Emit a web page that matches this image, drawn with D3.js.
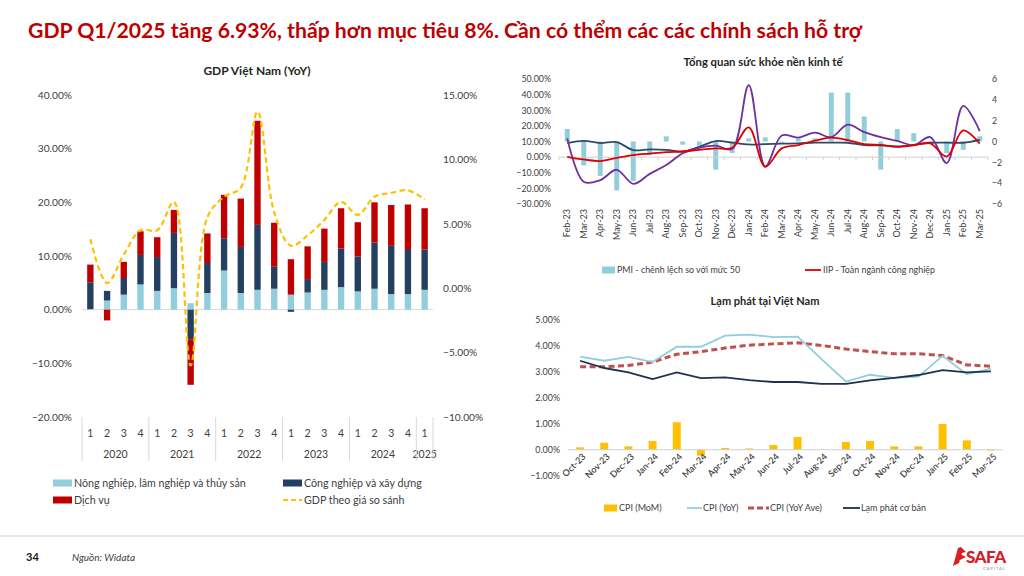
<!DOCTYPE html>
<html><head><meta charset="utf-8">
<script src="https://cdn.jsdelivr.net/npm/d3@7"></script>
<style>body{margin:0;background:#fff}svg{display:block}text{font-family:Lato,"Noto Sans",sans-serif}</style>
</head><body><svg id="c" width="1024" height="576"></svg>
<script>
// ---------- GDP chart data ----------
const gdpQuarter = ["1","2","3","4","1","2","3","4","1","2","3","4","1","2","3","4","1","2","3","4","1"];
const gdpYear = ["2020","2020","2020","2020","2021","2021","2021","2021","2022","2022","2022","2022","2023","2023","2023","2023","2024","2024","2024","2024","2025"];
const agri = [0.1,1.7,2.8,4.7,3.5,4.0,1.2,3.1,7.3,3.1,3.7,3.9,2.8,3.2,3.7,4.2,3.4,3.9,2.9,2.9,3.7];
const industry = [5.0,1.8,3.1,5.5,6.3,10.3,-5.5,5.6,6.0,8.6,12.1,4.1,-0.4,2.5,5.2,7.2,6.5,8.6,9.0,8.4,7.5];
const services = [3.3,-2.0,3.0,4.4,3.7,4.3,-8.5,5.5,8.1,9.0,19.4,8.2,6.6,6.1,6.2,7.5,6.4,7.5,7.6,8.3,7.7];
const gdpTotal = [3.8,0.4,2.6,4.5,4.5,6.7,-6.0,5.5,7.1,7.8,13.7,5.9,3.3,4.1,5.3,6.7,5.7,7.1,7.4,7.6,6.9];
const gdpLeftTicks = [-20,-10,0,10,20,30,40];
const gdpRightTicks = [-10,-5,0,5,10,15];

// ---------- Economy health chart data ----------
const healthMonths = ["Feb-23","Mar-23","Apr-23","May-23","Jun-23","Jul-23","Aug-23","Sep-23","Oct-23","Nov-23","Dec-23","Jan-24","Feb-24","Mar-24","Apr-24","May-24","Jun-24","Jul-24","Aug-24","Sep-24","Oct-24","Nov-24","Dec-24","Jan-25","Feb-25","Mar-25"];
const pmiGap = [1.2,-2.3,-3.3,-4.7,-3.8,-1.3,0.5,-0.3,-0.4,-2.7,-1.1,0.3,0.4,-0.1,0.3,0.3,4.7,4.7,2.4,-2.7,1.2,0.8,-0.2,-1.1,-0.8,0.5];
const iip = [0.2,-1.5,-2.5,-0.5,1.3,2.3,3.2,3.6,4.7,5.6,6.0,19.0,-6.2,5.6,7.7,10.5,12.5,10.9,8.3,7.8,6.6,7.6,8.8,0.4,17.1,8.6];
const purpleSeries = [12.0,-15.8,-14.7,-8.1,-17.1,-10.7,-5.1,2.5,6.0,7.3,5.3,46.0,-6.0,13.8,12.5,15.7,12.8,20.8,16.0,12.8,10.4,7.7,12.8,-3.8,32.8,16.7];
const navySeries = [9.0,10.4,9.0,9.6,4.5,5.0,4.7,3.6,6.6,10.3,9.3,8.1,8.3,8.6,8.8,9.3,9.3,9.2,7.7,7.5,6.9,7.9,9.2,9.3,9.2,11.1];
const healthLeftTicks = [-30,-20,-10,0,10,20,30,40,50];
const healthRightTicks = [-6,-4,-2,0,2,4,6];

// ---------- Inflation chart data ----------
const cpiMonths = ["Oct-23","Nov-23","Dec-23","Jan-24","Feb-24","Mar-24","Apr-24","May-24","Jun-24","Jul-24","Aug-24","Sep-24","Oct-24","Nov-24","Dec-24","Jan-25","Feb-25","Mar-25"];
const cpiMoM = [0.09,0.27,0.13,0.34,1.06,-0.23,0.07,0.05,0.18,0.49,0.0,0.30,0.34,0.13,0.13,0.99,0.36,-0.03];
const cpiYoY = [3.59,3.43,3.58,3.38,3.97,3.97,4.40,4.44,4.34,4.36,3.48,2.63,2.89,2.77,2.82,3.62,2.91,3.13];
const cpiYoYAve = [3.20,3.20,3.25,3.38,3.68,3.78,3.92,4.03,4.08,4.12,4.02,3.88,3.78,3.70,3.70,3.63,3.27,3.22];
const coreInfl = [3.43,3.15,2.98,2.72,2.98,2.76,2.79,2.68,2.61,2.61,2.54,2.54,2.67,2.77,2.88,3.07,2.98,3.02];
const cpiTicks = [-1,0,1,2,3,4,5];

const svg = d3.select("#c");
const TXT = "#404040";
const pct2 = d => d3.format(".2f")(d) + "%";

// ---------- Header ----------
svg.append("text").attr("x",28).attr("y",38).attr("font-size",20).attr("font-weight",700)
  .attr("fill","#c00000").attr("textLength",834).attr("lengthAdjust","spacingAndGlyphs")
  .text("GDP Q1/2025 tăng 6.93%, thấp hơn mục tiêu 8%. Cần có thểm các các chính sách hỗ trợ");

// ---------- GDP chart ----------
(function(){
  const g = svg.append("g");
  const x = d3.scaleBand().domain(d3.range(gdpQuarter.length)).range([82,433]).paddingInner(0.62).paddingOuter(0.31);
  const yL = d3.scaleLinear().domain([-20,40]).range([417,95]);
  const yR = d3.scaleLinear().domain([-10,15]).range([417,95]);
  const step = x.step();

  g.append("text").attr("x",257).attr("y",75).attr("text-anchor","middle").attr("font-size",12)
    .attr("font-weight",700).attr("fill","#262626").text("GDP Việt Nam (YoY)");

  g.append("line").attr("x1",82).attr("x2",433).attr("y1",yL(0)).attr("y2",yL(0)).attr("stroke","#d9d9d9");

  const rows = gdpQuarter.map((q,i)=>({i, agri:agri[i], industry:industry[i], services:services[i]}));
  const keys = ["agri","industry","services"];
  const colors = {agri:"#92cddc", industry:"#243f60", services:"#c00000"};
  const stack = d3.stack().keys(keys).offset(d3.stackOffsetDiverging)(rows);
  g.selectAll("g.s").data(stack).join("g").attr("fill",d=>colors[d.key])
    .selectAll("rect").data(d=>d).join("rect")
    .attr("x",d=>x(d.data.i)).attr("width",x.bandwidth())
    .attr("y",d=>yL(Math.max(d[0],d[1]))).attr("height",d=>Math.abs(yL(d[0])-yL(d[1])));

  const line = d3.line().x((d,i)=>x(i)+x.bandwidth()/2).y(d=>yR(d)).curve(d3.curveCatmullRom.alpha(0.5));
  g.append("path").attr("d",line(gdpTotal)).attr("fill","none").attr("stroke","#ffc000")
    .attr("stroke-width",2.2).attr("stroke-dasharray","5.5,3.5");

  g.append("g").attr("transform","translate(72,0)")
    .call(d3.axisLeft(yL).tickValues(gdpLeftTicks).tickFormat(pct2).tickSize(0).tickPadding(0))
    .call(a=>a.select(".domain").remove())
    .call(a=>a.selectAll("text").attr("font-size",10.2).attr("fill",TXT).attr("font-family",null));
  g.append("g").attr("transform","translate(443,0)")
    .call(d3.axisRight(yR).tickValues(gdpRightTicks).tickFormat(pct2).tickSize(0).tickPadding(0))
    .call(a=>a.select(".domain").remove())
    .call(a=>a.selectAll("text").attr("font-size",10.2).attr("fill",TXT).attr("font-family",null));

  // category axis (two levels)
  g.selectAll("text.q").data(gdpQuarter).join("text").attr("class","q")
    .attr("x",(d,i)=>x(i)+x.bandwidth()/2).attr("y",437).attr("text-anchor","middle")
    .attr("font-size",10.5).attr("fill",TXT).text(d=>d);
  const years = d3.groups(gdpYear.map((y,i)=>({y,i})), d=>d.y).map(([y,arr])=>({y, first:arr[0].i, last:arr[arr.length-1].i}));
  g.selectAll("text.y").data(years).join("text").attr("class","y")
    .attr("x",d=>(x(d.first)+x(d.last)+x.bandwidth())/2).attr("y",458).attr("text-anchor","middle")
    .attr("font-size",10.5).attr("fill",TXT).text(d=>d.y);
  const seps = [x(0)-(step-x.bandwidth())/2].concat(years.map(d=>x(d.last)+x.bandwidth()+(step-x.bandwidth())/2));
  g.selectAll("line.sep").data(seps).join("line").attr("class","sep")
    .attr("x1",d=>d).attr("x2",d=>d).attr("y1",417).attr("y2",461).attr("stroke","#d9d9d9");

  // legend
  const lg = [
    {t:"Nông nghiệp, lâm nghiệp và thủy sản", c:colors.agri, x:53, y:483, type:"rect"},
    {t:"Công nghiệp và xây dựng", c:colors.industry, x:283, y:483, type:"rect"},
    {t:"Dịch vụ", c:colors.services, x:53, y:500, type:"rect"},
    {t:"GDP theo giá so sánh", c:"#ffc000", x:283, y:500, type:"dash"}
  ];
  lg.forEach(d=>{
    if(d.type==="rect") g.append("rect").attr("x",d.x).attr("y",d.y-3.5).attr("width",19).attr("height",7).attr("fill",d.c);
    else g.append("line").attr("x1",d.x).attr("x2",d.x+19).attr("y1",d.y).attr("y2",d.y).attr("stroke",d.c).attr("stroke-width",2.2).attr("stroke-dasharray","5,3");
    g.append("text").attr("x",d.x+21).attr("y",d.y).attr("dy","0.35em").attr("font-size",10.7).attr("fill",TXT).text(d.t);
  });
})();

// ---------- Economy health chart ----------
(function(){
  const g = svg.append("g");
  const x = d3.scaleBand().domain(healthMonths).range([559,988]).paddingInner(0.7).paddingOuter(0.35);
  const yL = d3.scaleLinear().domain([-30,50]).range([204,79]);
  const yR = d3.scaleLinear().domain([-6,6]).range([204,79]);
  const cx = m => x(m)+x.bandwidth()/2;
  const step = x.step();

  g.append("text").attr("x",763).attr("y",66).attr("text-anchor","middle").attr("font-size",11.3)
    .attr("font-weight",700).attr("fill","#262626").text("Tổng quan sức khỏe nền kinh tế");

  g.selectAll("rect.p").data(pmiGap).join("rect").attr("class","p")
    .attr("x",(d,i)=>x(healthMonths[i])).attr("width",x.bandwidth())
    .attr("y",d=>yR(Math.max(0,d))).attr("height",d=>Math.abs(yR(d)-yR(0))).attr("fill","#92cddc");

  g.append("line").attr("x1",559).attr("x2",988).attr("y1",yL(0)).attr("y2",yL(0)).attr("stroke","#d0d0d0");
  g.selectAll("line.tk").data(d3.range(healthMonths.length+1)).join("line").attr("class","tk")
    .attr("x1",i=>559+i*step).attr("x2",i=>559+i*step).attr("y1",yL(0)).attr("y2",yL(0)+3).attr("stroke","#d0d0d0");

  const line = ys => d3.line().x((d,i)=>cx(healthMonths[i])).y(d=>ys(d)).curve(d3.curveCatmullRom.alpha(0.5));
  g.append("path").attr("d",line(yL)(navySeries)).attr("fill","none").attr("stroke","#2e4a68").attr("stroke-width",1.8);
  g.append("path").attr("d",line(yL)(purpleSeries)).attr("fill","none").attr("stroke","#7030a0").attr("stroke-width",1.8);
  g.append("path").attr("d",line(yL)(iip)).attr("fill","none").attr("stroke","#e00000").attr("stroke-width",1.8);

  g.append("g").attr("transform","translate(551,0)")
    .call(d3.axisLeft(yL).tickValues(healthLeftTicks).tickFormat(pct2).tickSize(0).tickPadding(0))
    .call(a=>a.select(".domain").remove())
    .call(a=>a.selectAll("text").attr("font-size",8.8).attr("fill",TXT).attr("font-family",null));
  g.append("g").attr("transform","translate(992,0)")
    .call(d3.axisRight(yR).tickValues(healthRightTicks).tickFormat(d3.format("d")).tickSize(0).tickPadding(0))
    .call(a=>a.select(".domain").remove())
    .call(a=>a.selectAll("text").attr("font-size",8.8).attr("fill",TXT).attr("font-family",null));

  g.selectAll("text.m").data(healthMonths).join("text").attr("class","m")
    .attr("transform",m=>`translate(${cx(m)},209) rotate(-90)`).attr("text-anchor","end").attr("dy","0.35em")
    .attr("font-size",9).attr("fill",TXT).text(m=>m);

  g.append("rect").attr("x",602).attr("y",266.5).attr("width",13).attr("height",7).attr("fill","#92cddc");
  g.append("text").attr("x",617).attr("y",270).attr("dy","0.35em").attr("font-size",8.9).attr("fill",TXT).text("PMI - chênh lệch so với mức 50");
  g.append("line").attr("x1",805).attr("x2",821).attr("y1",270).attr("y2",270).attr("stroke","#e00000").attr("stroke-width",1.8);
  g.append("text").attr("x",823).attr("y",270).attr("dy","0.35em").attr("font-size",8.9).attr("fill",TXT).text("IIP - Toàn ngành công nghiệp");
})();

// ---------- Inflation chart ----------
(function(){
  const g = svg.append("g");
  const x = d3.scaleBand().domain(cpiMonths).range([568,1003]).paddingInner(0.67).paddingOuter(0.335);
  const y = d3.scaleLinear().domain([-1,5]).range([475.7,320]);
  const cx = m => x(m)+x.bandwidth()/2;

  g.append("text").attr("x",765).attr("y",305).attr("text-anchor","middle").attr("font-size",11)
    .attr("font-weight",700).attr("fill","#262626").text("Lạm phát tại Việt Nam");

  g.selectAll("rect.b").data(cpiMoM).join("rect").attr("class","b")
    .attr("x",(d,i)=>x(cpiMonths[i])).attr("width",x.bandwidth())
    .attr("y",d=>y(Math.max(0,d))).attr("height",d=>Math.abs(y(d)-y(0))).attr("fill","#ffc000");
  g.append("line").attr("x1",568).attr("x2",1003).attr("y1",y(0)).attr("y2",y(0)).attr("stroke","#d0d0d0");

  const line = d3.line().x((d,i)=>cx(cpiMonths[i])).y(d=>y(d));
  g.append("path").attr("d",line(cpiYoYAve)).attr("fill","none").attr("stroke","#c0504d").attr("stroke-width",3).attr("stroke-dasharray","6,3.5");
  g.append("path").attr("d",line(cpiYoY)).attr("fill","none").attr("stroke","#92cddc").attr("stroke-width",1.8);
  g.append("path").attr("d",line(coreInfl)).attr("fill","none").attr("stroke","#1f3050").attr("stroke-width",1.8);

  g.append("g").attr("transform","translate(560,0)")
    .call(d3.axisLeft(y).tickValues(cpiTicks).tickFormat(pct2).tickSize(0).tickPadding(0))
    .call(a=>a.select(".domain").remove())
    .call(a=>a.selectAll("text").attr("font-size",8.9).attr("fill",TXT).attr("font-family",null));

  g.selectAll("text.m").data(cpiMonths).join("text").attr("class","m")
    .attr("transform",m=>`translate(${cx(m)+4},455) rotate(-45)`).attr("text-anchor","end").attr("dy","0.35em")
    .attr("font-size",9).attr("font-weight",600).attr("fill",TXT).text(m=>m);

  const ly = 508;
  g.append("rect").attr("x",604).attr("y",ly-3.5).attr("width",13).attr("height",7).attr("fill","#ffc000");
  g.append("text").attr("x",619).attr("y",ly).attr("dy","0.35em").attr("font-size",9).attr("fill",TXT).text("CPI (MoM)");
  g.append("line").attr("x1",687).attr("x2",702).attr("y1",ly).attr("y2",ly).attr("stroke","#92cddc").attr("stroke-width",1.8);
  g.append("text").attr("x",703).attr("y",ly).attr("dy","0.35em").attr("font-size",9).attr("fill",TXT).text("CPI (YoY)");
  g.append("line").attr("x1",748).attr("x2",769).attr("y1",ly).attr("y2",ly).attr("stroke","#c0504d").attr("stroke-width",3).attr("stroke-dasharray","6,3");
  g.append("text").attr("x",770).attr("y",ly).attr("dy","0.35em").attr("font-size",9).attr("fill",TXT).text("CPI (YoY Ave)");
  g.append("line").attr("x1",843).attr("x2",860).attr("y1",ly).attr("y2",ly).attr("stroke","#1f3050").attr("stroke-width",1.8);
  g.append("text").attr("x",861).attr("y",ly).attr("dy","0.35em").attr("font-size",9).attr("fill",TXT).text("Lạm phát cơ bản");
})();

// ---------- Footer ----------
svg.append("line").attr("x1",0).attr("x2",1024).attr("y1",536).attr("y2",536).attr("stroke","#d0d0d0").attr("stroke-width",1);
svg.append("text").attr("x",26).attr("y",561).attr("font-size",11).attr("font-weight",700).attr("fill","#1a1a1a").text("34");
svg.append("text").attr("x",72).attr("y",561).attr("font-size",10).attr("font-style","italic").attr("fill",TXT).text("Nguồn: Widata");
svg.append("path").attr("d","M953,566 L958,548 L961,547 L966,552 L962,553 L959,563 Z").attr("fill","#d42027");
svg.append("path").attr("d","M960,560 L966,557 L960,554 Z").attr("fill","#d42027");
svg.append("text").attr("x",966).attr("y",563).attr("font-size",17).attr("font-weight",900).attr("fill","#d42027").attr("letter-spacing",-0.5).text("SAFA");
svg.append("text").attr("x",983).attr("y",570).attr("font-size",4).attr("fill","#888").attr("letter-spacing",1).text("CAPITAL");
</script></body></html>
